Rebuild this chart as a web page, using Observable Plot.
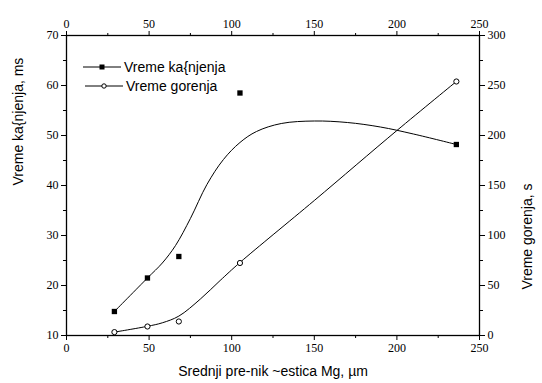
<!DOCTYPE html>
<html>
<head>
<meta charset="utf-8">
<script src="https://cdn.jsdelivr.net/npm/d3@7"></script>
<script src="https://cdn.jsdelivr.net/npm/@observablehq/plot@0.6"></script>
<style>
  html, body { margin: 0; padding: 0; background: #fff; }
  #wrap { position: relative; width: 542px; height: 383px; }
  #legend { position: absolute; left: 0; top: 0; pointer-events: none; }
</style>
</head>
<body>
<div id="wrap"></div>
<script>
// Measured data (mean Mg particle diameter, µm)
const diameter = [29, 49, 68, 105, 236];
const kasnjenje = [14.8, 21.5, 25.8, 58.5, 48.2];   // ms, left axis
const gorenje = [3.4, 9.0, 14.0, 72.5, 254];         // s, right axis

// Fitted curves as drawn in the figure (knots)
const fitKasX = [29, 49, 58, 66, 75, 85, 95, 105, 115, 130, 150, 170, 190, 210, 236];
const fitKasY = [14.8, 21.5, 24.5, 28.0, 33.4, 40.2, 45.2, 48.6, 50.8, 52.4, 52.9, 52.6, 51.7, 50.3, 48.2];
const fitGorX = [29, 49, 58, 68, 81, 93, 105, 150, 200, 236];
const fitGorY = [3.4, 9.2, 12.7, 19.4, 36.4, 55, 73, 135, 205, 254];

// Tick values
const xMajor = [0, 50, 100, 150, 200, 250];
const xMinor = [25, 75, 125, 175, 225];
const yMajor = [10, 20, 30, 40, 50, 60, 70];
const yMinor = [15, 25, 35, 45, 55, 65];

const labels = {
  series1: "Vreme ka{njenja",
  series2: "Vreme gorenja",
  x: "Srednji pre-nik ~estica Mg, \u00b5m",
  yLeft: "Vreme ka{njenja, ms",
  yRight: "Vreme gorenja, s"
};

// right axis (0..300 s) mapped onto left axis (10..70 ms)
const toLeft = v => 10 + v / 5;
const fromLeft = y => (y - 10) * 5;

const pts1 = diameter.map((d, i) => ({x: d, y: kasnjenje[i]}));
const pts2 = diameter.map((d, i) => ({x: d, y: toLeft(gorenje[i])}));
const fit1 = fitKasX.map((d, i) => ({x: d, y: fitKasY[i]}));
const fit2 = fitGorX.map((d, i) => ({x: d, y: toLeft(fitGorY[i])}));

const sansCSS = "'Liberation Sans', Arial, sans-serif";
const serifCSS = "'Liberation Serif', 'DejaVu Serif', serif";
const blank = () => "";
const ax = {label: null, tickPadding: 3};

const chart = Plot.plot({
  width: 542,
  height: 383,
  marginLeft: 66,
  marginRight: 63,
  marginTop: 35,
  marginBottom: 48,
  style: {color: "black", background: "white"},
  x: {domain: [0, 250]},
  y: {domain: [10, 70]},
  marks: [
    Plot.axisX(xMajor, {...ax, anchor: "bottom", tickSize: 5}),
    Plot.axisX(xMinor, {...ax, anchor: "bottom", tickSize: 3, tickFormat: blank}),
    Plot.axisX(xMajor, {...ax, anchor: "top", tickSize: 5}),
    Plot.axisX(xMinor, {...ax, anchor: "top", tickSize: 3, tickFormat: blank}),
    Plot.axisY(yMajor, {...ax, anchor: "left", tickSize: 5}),
    Plot.axisY(yMinor, {...ax, anchor: "left", tickSize: 3, tickFormat: blank}),
    Plot.axisY(yMajor, {...ax, anchor: "right", tickSize: 5, tickFormat: fromLeft}),
    Plot.axisY(yMinor, {...ax, anchor: "right", tickSize: 3, tickFormat: blank}),
    Plot.frame({stroke: "black", strokeWidth: 1.3}),
    Plot.line(fit1, {x: "x", y: "y", curve: "catmull-rom", stroke: "black", strokeWidth: 1}),
    Plot.line(fit2, {x: "x", y: "y", curve: "catmull-rom", stroke: "black", strokeWidth: 1}),
    Plot.dot(pts1, {x: "x", y: "y", symbol: "square", r: 3, fill: "black", stroke: "none"}),
    Plot.dot(pts2, {x: "x", y: "y", symbol: "circle", r: 2.6, fill: "white", stroke: "black", strokeWidth: 1}),
    Plot.text([labels.x], {frameAnchor: "bottom", dy: 40, fontSize: 14, fill: "black"}),
    Plot.text([labels.yLeft], {frameAnchor: "left", dx: -48, rotate: -90, fontSize: 14, fill: "black"}),
    Plot.text([labels.yRight], {frameAnchor: "right", dx: 48, dy: -2, rotate: -90, fontSize: 14, fill: "black"})
  ]
});

// fonts: serif tick labels, sans axis titles
const titleSet = new Set([labels.x, labels.yLeft, labels.yRight]);
chart.querySelectorAll("text").forEach(t => {
  if (titleSet.has(t.textContent)) {
    t.style.fontFamily = sansCSS;
    t.style.fontSize = "14px";
  } else {
    t.style.fontFamily = serifCSS;
    t.style.fontSize = "12px";
  }
});

const wrap = document.getElementById("wrap");
wrap.appendChild(chart);

// Legend overlay (inside the plot area, top left)
const ns = "http://www.w3.org/2000/svg";
const leg = document.createElementNS(ns, "svg");
leg.setAttribute("id", "legend");
leg.setAttribute("width", 542);
leg.setAttribute("height", 383);
const items = [
  {label: labels.series1, sym: "square", x0: 83, y: 67},
  {label: labels.series2, sym: "circle", x0: 85, y: 86}
];
for (const it of items) {
  const line = document.createElementNS(ns, "line");
  line.setAttribute("x1", it.x0); line.setAttribute("x2", it.x0 + 38);
  line.setAttribute("y1", it.y); line.setAttribute("y2", it.y);
  line.setAttribute("stroke", "black"); line.setAttribute("stroke-width", 1);
  leg.appendChild(line);
  const cx = it.x0 + 19;
  if (it.sym === "square") {
    const r = document.createElementNS(ns, "rect");
    r.setAttribute("x", cx - 2.5); r.setAttribute("y", it.y - 2.5);
    r.setAttribute("width", 5); r.setAttribute("height", 5);
    r.setAttribute("fill", "black");
    leg.appendChild(r);
  } else {
    const c = document.createElementNS(ns, "circle");
    c.setAttribute("cx", cx); c.setAttribute("cy", it.y); c.setAttribute("r", 2.2);
    c.setAttribute("fill", "white"); c.setAttribute("stroke", "black");
    leg.appendChild(c);
  }
  const t = document.createElementNS(ns, "text");
  t.setAttribute("x", it.x0 + 41); t.setAttribute("y", it.y);
  t.setAttribute("dy", "0.35em");
  t.style.fontFamily = sansCSS; t.style.fontSize = "14px";
  t.setAttribute("fill", "black");
  t.textContent = it.label;
  leg.appendChild(t);
}
wrap.appendChild(leg);
</script>
</body>
</html>
